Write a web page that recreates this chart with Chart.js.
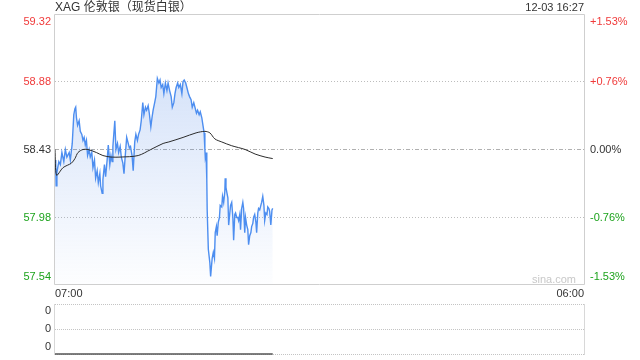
<!DOCTYPE html>
<html>
<head>
<meta charset="utf-8">
<script src="https://cdn.jsdelivr.net/npm/chart.js@4.4.1/dist/chart.umd.min.js"></script>
<style>
  html, body { margin: 0; padding: 0; background: #fff; }
  #wrap { position: relative; width: 640px; height: 360px; overflow: hidden; font-family: "Liberation Sans", Arial, "Noto Sans CJK SC", sans-serif; }
  #main { position: absolute; left: 0; top: 0; width: 640px; height: 300px; }
  #vol { position: absolute; left: 0; top: 300px; width: 640px; height: 60px; }
  .txt { position: absolute; white-space: nowrap; color: #333; }
</style>
</head>
<body>
<div id="wrap">
  <div id="main"><canvas id="c1" width="640" height="300"></canvas></div>
  <div id="vol"><canvas id="c2" width="640" height="60"></canvas></div>
  <div class="txt" id="title" style="left:55px; top:0px; font-size:12px; line-height:15px;"></div>
  <div class="txt" id="stamp" style="right:56px; top:0px; font-size:11px; line-height:15px;"></div>
  <div class="txt" id="mark" style="left:532px; top:272px; font-size:11px; line-height:14px; color:#c8c8c8;"></div>
</div>
<script>
// ---------- data ----------
const chartTitle = "XAG 伦敦银（现货白银）";
const timeStamp = "12-03 16:27";
const watermark = "sina.com";
const prevClose = 58.43;
const yMin = 57.54, yMax = 59.32;
const leftTickValues = [57.54, 57.98, 58.43, 58.88, 59.32];
const leftTickLabels = ["57.54", "57.98", "58.43", "58.88", "59.32"];
const rightTickLabels = ["-1.53%", "-0.76%", "0.00%", "+0.76%", "+1.53%"];
const xTickValues = [0, 1380];               // minutes after 07:00
const xTickLabels = ["07:00", "06:00"];
const volTickValues = [0, 1, 2];
const volTickLabels = ["0", "0", "0"];

// minutes after 07:00
const priceTimes = [
  0,2,3,5,10,14,18,23,27,31,37,40,45,49,52,54,56,59,63,66,70,73,76,79,82,85,89,92,96,99,
  103,106,110,113,117,119,123,125,129,132,136,139,143,146,149,
  151,156,159,163,166,170,173,177,180,183,187,190,194,197,201,204,208,211,215,218,222,225,229,232,236,239,243,246,250,253,256,260,263,267,271,274,277,281,284,288,292,295,
  299,303,306,310,313,316,320,323,327,331,334,337,341,344,348,351,355,358,362,365,369,372,376,379,383,386,389,391,392,394,396,397,400,404,406,
  410,413,416,418,421,423,426,429,431,435,437,440,443,444,446,448,451,453,456,458,461,464,466,469,471,474,477,479,482,484,487,490,492,495,497,500,503,505,508,511,513,516,518,521,524,526,529,531,534,537,539,542,545,547,550,553,555,558,560,563,566,568
];
const prices = [
  58.36,58.33,58.19,58.28,58.35,58.33,58.41,58.35,58.43,58.38,58.41,58.36,58.47,58.66,58.70,58.71,58.64,58.59,58.62,58.55,58.53,58.49,58.51,58.46,58.49,58.39,58.43,58.38,58.41,58.31,
  58.36,58.24,58.29,58.21,58.27,58.19,58.14,58.23,58.33,58.25,58.36,58.46,58.33,58.39,58.35,
  58.45,58.62,58.43,58.47,58.41,58.45,58.38,58.34,58.27,58.38,58.51,58.48,58.44,58.45,58.39,58.29,58.48,58.53,58.49,58.53,58.56,58.62,58.74,58.66,58.71,58.69,58.72,58.67,58.58,58.64,58.69,58.74,58.78,58.90,58.87,58.89,58.84,58.86,58.80,58.87,58.82,58.87,
  58.82,58.78,58.71,58.74,58.80,58.84,58.87,58.84,58.86,58.80,58.88,58.89,58.87,58.84,58.80,58.78,58.76,58.71,58.74,58.71,58.67,58.69,58.66,58.68,58.64,58.59,58.54,58.43,58.38,58.41,58.23,58.03,57.77,57.68,57.59,
  57.71,57.75,57.71,57.88,57.92,57.86,57.95,57.98,58.06,58.05,58.12,58.08,58.15,58.24,58.18,58.15,58.11,57.93,58.01,58.06,58.08,57.98,57.83,58.00,58.01,57.98,57.98,57.96,58.00,57.90,58.04,58.08,58.04,57.88,57.98,57.93,57.90,57.80,57.86,57.88,57.92,57.94,57.98,58.00,57.95,57.88,58.01,58.04,58.03,58.06,58.08,58.12,58.06,57.96,58.01,58.00,58.05,58.04,58.02,57.93,58.03,58.04
];

const avgTimes = [0,4,21,43,52,60,73,86,108,125,146,172,217,250,282,297,334,368,391,404,417,435,461,496,522,548,568];
const avgPrices = [58.43,58.26,58.31,58.34,58.37,58.41,58.43,58.43,58.41,58.39,58.38,58.38,58.39,58.43,58.47,58.48,58.51,58.54,58.55,58.54,58.50,58.48,58.455,58.43,58.40,58.38,58.37];

const volTimes = [0, 568];
const volumes = [0, 0];

// ---------- text ----------
document.getElementById('title').textContent = chartTitle;
document.getElementById('stamp').textContent = timeStamp;
document.getElementById('mark').textContent = watermark;

const RED = '#f03a3a', GREEN = '#1da31d', DARK = '#333333';
const FONT = { family: '"Liberation Sans", Arial, sans-serif', size: 11 };

function tickColor(i, n) { const mid = (n - 1) / 2; return i > mid ? RED : (i < mid ? GREEN : DARK); }
function edgeLabel(lbl, i, n) { if (i === 0) return [lbl, '']; if (i === n - 1) return ['', lbl]; return lbl; }
function setTicks(values) { return axis => { axis.ticks = values.map(v => ({ value: v })); }; }

const boxPlugin = {
  id: 'box',
  afterDatasetsDraw(chart, args, opts) {
    const a = chart.chartArea, ctx = chart.ctx;
    ctx.save();
    ctx.strokeStyle = opts.color || '#cccccc';
    ctx.lineWidth = 1;
    ctx.beginPath();
    if (opts.full) {
      ctx.rect(Math.round(a.left) - 0.5, Math.round(a.top) - 0.5, Math.round(a.right - a.left) + 1, Math.round(a.bottom - a.top) + 1);
    } else {
      ctx.moveTo(Math.round(a.left) - 0.5, a.top); ctx.lineTo(Math.round(a.left) - 0.5, a.bottom + 1);
      ctx.moveTo(Math.round(a.right) + 0.5, a.top); ctx.lineTo(Math.round(a.right) + 0.5, a.bottom + 1);
    }
    ctx.stroke();
    ctx.restore();
  }
};

function zeroPad(scale) { scale.paddingTop = 0; scale.paddingBottom = 0; }

// ---------- main chart ----------
new Chart(document.getElementById('c1'), {
  type: 'line',
  data: {
    datasets: [
      {
        label: 'avg',
        data: avgTimes.map((t, i) => ({ x: t, y: avgPrices[i] })),
        borderColor: '#2b2b2b', borderWidth: 1, pointRadius: 0, tension: 0.3, fill: false
      },
      {
        label: 'price',
        data: priceTimes.map((t, i) => ({ x: t, y: prices[i] })),
        borderColor: '#4d8ef0', borderWidth: 1.4, pointRadius: 0, tension: 0,
        fill: 'start',
        backgroundColor: (c) => {
          const a = c.chart.chartArea;
          if (!a) return 'rgba(90,140,230,0.15)';
          const g = c.chart.ctx.createLinearGradient(0, a.top, 0, a.bottom);
          g.addColorStop(0, 'rgba(80,135,230,0.30)');
          g.addColorStop(0.35, 'rgba(80,135,230,0.20)');
          g.addColorStop(1, 'rgba(80,135,230,0.01)');
          return g;
        }
      }
    ]
  },
  options: {
    responsive: false, animation: false, devicePixelRatio: 1,
    layout: { padding: { top: 15, right: 0, left: 0, bottom: 0 } },
    plugins: { legend: { display: false }, tooltip: { enabled: false }, box: { full: true, color: '#cfcfcf' } },
    scales: {
      x: {
        type: 'linear', min: 0, max: 1380,
        afterBuildTicks: setTicks(xTickValues),
        afterFit: s => { s.height = 16; },
        grid: { display: false, drawTicks: false },
        border: { display: false },
        ticks: { autoSkip: false, maxRotation: 0, align: 'inner', padding: 3, color: DARK, font: FONT,
                 callback: (v, i) => xTickLabels[i] }
      },
      y: {
        position: 'left', min: yMin, max: yMax,
        afterBuildTicks: setTicks(leftTickValues),
        afterFit: s => { s.width = 55; zeroPad(s); },
        grid: { drawTicks: false, lineWidth: 1, color: c => (c.index === 1 || c.index === 3) ? '#bdbdbd' : 'rgba(0,0,0,0)' },
        border: { display: false, dash: [1, 2] },
        ticks: { autoSkip: false, padding: 4, font: FONT, color: c => tickColor(c.index, leftTickValues.length),
                 callback: (v, i) => edgeLabel(leftTickLabels[i], i, leftTickValues.length) }
      },
      y2: {
        position: 'right', min: yMin, max: yMax,
        afterBuildTicks: setTicks(leftTickValues),
        afterFit: s => { s.width = 56; zeroPad(s); },
        grid: { drawTicks: false, color: c => c.index === 2 ? '#b0b0b0' : 'rgba(0,0,0,0)' },
        border: { display: false, dash: [4, 2, 1, 2] },
        ticks: { autoSkip: false, padding: 6, font: FONT, color: c => tickColor(c.index, leftTickValues.length),
                 callback: (v, i) => edgeLabel(rightTickLabels[i], i, leftTickValues.length) }
      }
    }
  },
  plugins: [boxPlugin]
});

// ---------- volume chart ----------
new Chart(document.getElementById('c2'), {
  type: 'line',
  data: {
    datasets: [{
      label: 'vol',
      data: volTimes.map((t, i) => ({ x: t, y: volumes[i] })),
      borderColor: '#555555', borderWidth: 1.5, pointRadius: 0, fill: false,
      clip: { left: 0, right: 0, top: 0, bottom: 3 }
    }]
  },
  options: {
    responsive: false, animation: false, devicePixelRatio: 1,
    layout: { padding: { top: 4, right: 56, left: 0, bottom: 6 } },
    plugins: { legend: { display: false }, tooltip: { enabled: false }, box: { full: false, color: '#d8d8d8' } },
    scales: {
      x: { type: 'linear', min: 0, max: 1380, display: false },
      y: {
        position: 'left', min: 0, max: 2,
        afterBuildTicks: setTicks(volTickValues),
        afterFit: s => { s.width = 55; zeroPad(s); },
        grid: { drawTicks: false, color: '#c4c4c4' },
        border: { display: false, dash: [1, 1] },
        ticks: { autoSkip: false, padding: 4, font: FONT, color: DARK,
                 callback: (v, i) => edgeLabel(volTickLabels[i], i, volTickValues.length) }
      }
    }
  },
  plugins: [boxPlugin]
});
</script>
</body>
</html>
